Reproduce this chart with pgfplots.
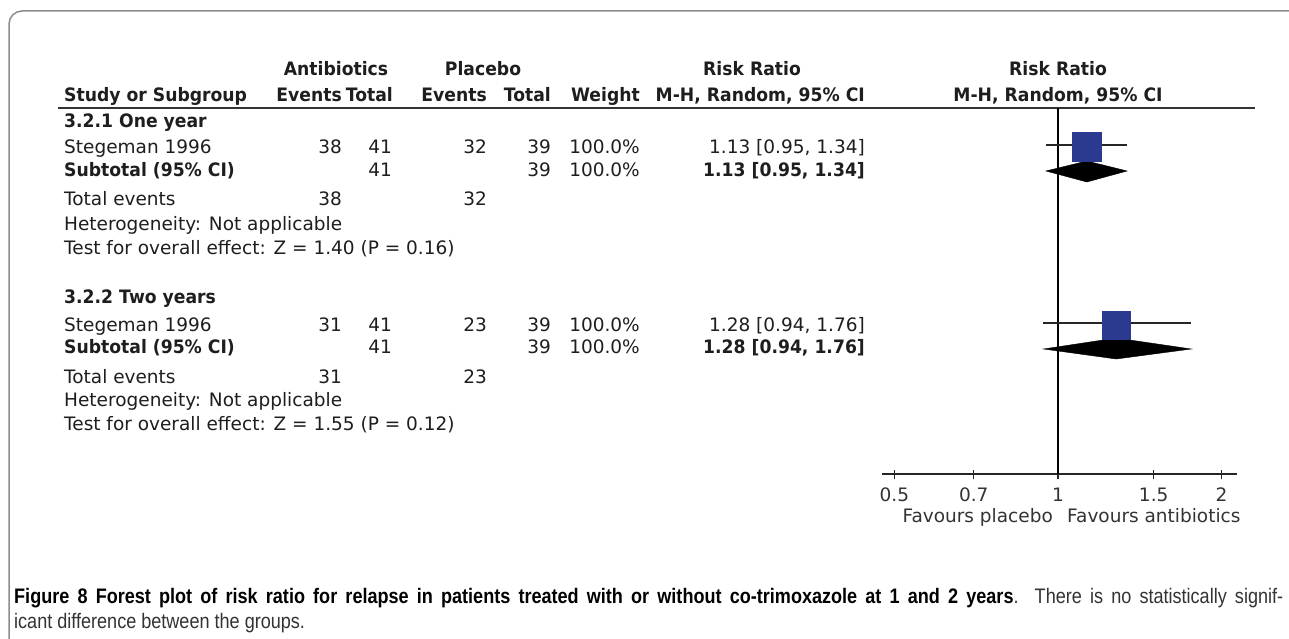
\documentclass[border=0pt]{standalone}
\usepackage{pgfplots}
\pgfplotsset{compat=1.18}
\usepackage{fontspec}
\setmainfont{DejaVu Sans}[BoldFeatures={FakeStretch=0.93}]
\newfontfamily\capreg[FakeStretch=0.86]{Liberation Sans}
\newfontfamily\capbf[FakeStretch=0.86]{Liberation Sans Bold}
\definecolor{rmblue}{RGB}{43,57,145}
\definecolor{txt}{RGB}{30,30,30}
\newcommand\tf{\fontsize{18.5}{21}\selectfont}

\begin{document}
\begin{tikzpicture}
\begin{scope}[x=1pt,y=-1pt]
\useasboundingbox (0,0) rectangle (1289,639);
\fill[white] (0,0) rectangle (1289,639);
\draw[black!45, line width=1.5pt, rounded corners=13pt] (9,11) rectangle (1320,700);

\begin{scope}[every node/.style={inner sep=0pt, text=txt, font=\tf}]
% header
\node[anchor=base, font=\tf\bfseries] at (336,76) {Antibiotics};
\node[anchor=base, font=\tf\bfseries] at (483,76) {Placebo};
\node[anchor=base, font=\tf\bfseries] at (752,76) {Risk Ratio};
\node[anchor=base, font=\tf\bfseries] at (1058,76) {Risk Ratio};
\node[anchor=base west, font=\tf\bfseries] at (64,102) {Study or Subgroup};
\node[anchor=base east, font=\tf\bfseries] at (342,102) {Events};
\node[anchor=base east, font=\tf\bfseries] at (393,102) {Total};
\node[anchor=base east, font=\tf\bfseries] at (487,102) {Events};
\node[anchor=base east, font=\tf\bfseries] at (551,102) {Total};
\node[anchor=base east, font=\tf\bfseries] at (640,102) {Weight};
\node[anchor=base east, font=\tf\bfseries] at (865,102) {M-H, Random, 95\% CI};
\node[anchor=base, font=\tf\bfseries] at (1058,102) {M-H, Random, 95\% CI};
% 3.2.1
\node[anchor=base west, font=\tf\bfseries] at (64,128) {3.2.1 One year};
\node[anchor=base west] at (64,154) {Stegeman 1996};
\node[anchor=base east] at (342,154) {38};
\node[anchor=base east] at (392,154) {41};
\node[anchor=base east] at (487,154) {32};
\node[anchor=base east] at (551,154) {39};
\node[anchor=base east] at (640,154) {100.0\%};
\node[anchor=base east] at (865,154) {1.13 [0.95, 1.34]};
\node[anchor=base west, font=\tf\bfseries] at (64,176) {Subtotal (95\% CI)};
\node[anchor=base east] at (392,176) {41};
\node[anchor=base east] at (551,176) {39};
\node[anchor=base east] at (640,176) {100.0\%};
\node[anchor=base east, font=\tf\bfseries] at (865,176) {1.13 [0.95, 1.34]};
\node[anchor=base west] at (64,205) {Total events};
\node[anchor=base east] at (342,205) {38};
\node[anchor=base east] at (487,205) {32};
\node[anchor=base west] at (64,230) {Heterogeneity: Not applicable};
\node[anchor=base west] at (64,254) {Test for overall effect: Z = 1.40 (P = 0.16)};
% 3.2.2
\node[anchor=base west, font=\tf\bfseries] at (64,303) {3.2.2 Two years};
\node[anchor=base west] at (64,331) {Stegeman 1996};
\node[anchor=base east] at (342,331) {31};
\node[anchor=base east] at (392,331) {41};
\node[anchor=base east] at (487,331) {23};
\node[anchor=base east] at (551,331) {39};
\node[anchor=base east] at (640,331) {100.0\%};
\node[anchor=base east] at (865,331) {1.28 [0.94, 1.76]};
\node[anchor=base west, font=\tf\bfseries] at (64,353) {Subtotal (95\% CI)};
\node[anchor=base east] at (392,353) {41};
\node[anchor=base east] at (551,353) {39};
\node[anchor=base east] at (640,353) {100.0\%};
\node[anchor=base east, font=\tf\bfseries] at (865,353) {1.28 [0.94, 1.76]};
\node[anchor=base west] at (64,383) {Total events};
\node[anchor=base east] at (342,383) {31};
\node[anchor=base east] at (487,383) {23};
\node[anchor=base west] at (64,406) {Heterogeneity: Not applicable};
\node[anchor=base west] at (64,430) {Test for overall effect: Z = 1.55 (P = 0.12)};
% favours
\node[anchor=base east, text=black!80] at (1053,522) {Favours placebo};
\node[anchor=base west, text=black!80] at (1067,522) {Favours antibiotics};
\end{scope}

\draw[line width=2pt, black!80] (58,108) -- (1255,108);

\node[anchor=base west, inner sep=0pt, text width=1269pt, align=justify, font=\fontsize{21}{25}\selectfont] at (14,603)
{{\capbf Figure 8 Forest plot of risk ratio for relapse in patients treated with or without co-trimoxazole at 1 and 2 years}\textcolor{black!80}{\capreg. There is no statistically signif-\linebreak icant difference between the groups.}};
\end{scope}

\begin{axis}[
  at={(882pt,-474pt)}, anchor=south west,
  scale only axis, width=355pt, height=366pt,
  xmode=log, xmin=0.4744, xmax=2.135,
  ymin=-474, ymax=-108,
  axis x line*=bottom, axis y line=none,
  x axis line style={-, line width=2pt, black!85},
  xtick={0.5,0.7,1,1.5,2},
  xticklabels={0.5,0.7,1,1.5,2},
  minor xtick={},
  xtick align=center,
  major tick length=9pt,
  tick style={line width=1.3pt, black!85},
  xticklabel style={font=\tf, text=black!80, anchor=base, inner sep=0pt, yshift=-23pt},
  clip=false,
]
\addplot[black, line width=1.5pt] coordinates {(1,-108) (1,-474)};
% 3.2.1 one year
\addplot[black!85, line width=1.5pt] coordinates {(0.95,-145) (1.34,-145)};
\addplot[only marks, mark=square*, mark size=14.5pt, mark options={fill=rmblue, draw=rmblue, line width=0pt}] coordinates {(1.13,-147)};
\addplot[fill=black, draw=black] coordinates {(0.95,-171) (1.13,-161) (1.34,-171) (1.13,-182)} -- cycle;
% 3.2.2 two years
\addplot[black!85, line width=1.5pt] coordinates {(0.94,-323) (1.76,-323)};
\addplot[only marks, mark=square*, mark size=14pt, mark options={fill=rmblue, draw=rmblue, line width=0pt}] coordinates {(1.28,-325)};
\addplot[fill=black, draw=black] coordinates {(0.94,-349) (1.28,-338) (1.76,-349) (1.28,-359)} -- cycle;
\end{axis}
\end{tikzpicture}
\end{document}
